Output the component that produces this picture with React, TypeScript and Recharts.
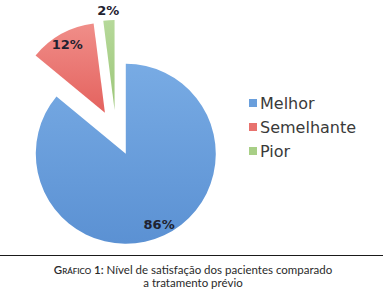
import { PieChart, Pie, Cell, Sector, Legend } from "recharts";

const CATEGORIES = ["Melhor", "Semelhante", "Pior"];
const VALUES = [86, 12, 2];
const COLORS = ["#6a9fdc", "#e8726e", "#a8cf86"];
const GRADIENTS = [
  ["#78abe4", "#5b91d3"],
  ["#f08e89", "#e4625e"],
  ["#b6d99a", "#9cc678"],
];

const data = CATEGORIES.map((name, i) => ({ name, value: VALUES[i] }));

const RADIAN = Math.PI / 180;
const EXPLODE = 23;

function ExplodedSector(props: any) {
  const { cx, cy, midAngle, innerRadius, outerRadius, startAngle, endAngle, fill } = props;
  const dx = EXPLODE * Math.cos(-midAngle * RADIAN);
  const dy = EXPLODE * Math.sin(-midAngle * RADIAN);
  return (
    <Sector
      cx={cx + dx}
      cy={cy + dy}
      innerRadius={innerRadius}
      outerRadius={outerRadius}
      startAngle={startAngle}
      endAngle={endAngle}
      fill={fill}
      stroke="none"
    />
  );
}

function renderLabel(props: any) {
  const { cx, cy, midAngle, outerRadius, value, percent } = props;
  // small slices get their label outside, like Excel does
  const r = EXPLODE + (percent < 0.05 ? outerRadius + 10 : outerRadius * 0.87);
  const x = cx + r * Math.cos(-midAngle * RADIAN);
  const y = cy + r * Math.sin(-midAngle * RADIAN);
  return (
    <text
      x={x}
      y={y}
      textAnchor="middle"
      dominantBaseline="central"
      fill="#1f2230"
      fontSize={13}
      fontWeight="bold"
      fontFamily="DejaVu Sans, Verdana, sans-serif"
    >
      {value}%
    </text>
  );
}

function LegendContent() {
  return (
    <div style={{ fontFamily: "DejaVu Sans, Verdana, sans-serif", fontSize: 16, color: "#3a3a3a" }}>
      {CATEGORIES.map((name, i) => (
        <div key={name} style={{ display: "flex", alignItems: "center", height: 24 }}>
          <span
            style={{
              display: "inline-block",
              width: 8,
              height: 8,
              background: COLORS[i],
              marginRight: 3,
            }}
          />
          <span>{name}</span>
        </div>
      ))}
    </div>
  );
}

export default function App() {
  return (
    <div style={{ position: "absolute", left: 0, top: 0, width: 389, height: 295, background: "#fff" }}>
      <PieChart width={389} height={252} margin={{ top: 0, right: 0, bottom: 0, left: 0 }}>
        <defs>
          {GRADIENTS.map((g, i) => (
            <linearGradient key={i} id={`grad${i}`} x1="0" y1="0" x2="0" y2="1">
              <stop offset="0%" stopColor={g[0]} />
              <stop offset="100%" stopColor={g[1]} />
            </linearGradient>
          ))}
        </defs>
        <Pie
          data={data}
          dataKey="value"
          nameKey="name"
          cx={116}
          cy={133}
          outerRadius={90}
          startAngle={90}
          endAngle={-270}
          stroke="none"
          shape={ExplodedSector}
          label={renderLabel}
          labelLine={false}
          isAnimationActive={false}
        >
          {data.map((_, i) => (
            <Cell key={i} fill={`url(#grad${i})`} />
          ))}
        </Pie>
        <Legend
          content={<LegendContent />}
          wrapperStyle={{ left: 249, top: 91, width: 130 }}
        />
      </PieChart>
      <div
        style={{
          position: "absolute",
          left: 0,
          top: 255,
          width: 383,
          borderTop: "1.5px solid #1a1a1a",
        }}
      />
      <div
        style={{
          position: "absolute",
          left: 0,
          top: 263,
          width: 386,
          textAlign: "center",
          fontFamily: "Lato, sans-serif",
          fontSize: 11.5,
          lineHeight: "13px",
          color: "#2a2a2a",
        }}
      >
        <span style={{ fontVariant: "small-caps", fontWeight: 600 }}>Gráfico 1:</span> Nível de satisfação dos
        pacientes comparado
        <br />a tratamento prévio
      </div>
    </div>
  );
}
